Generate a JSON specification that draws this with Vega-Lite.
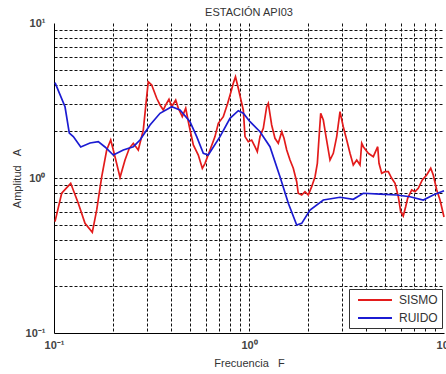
{
  "$schema": "https://vega.github.io/schema/vega-lite/v6.json",
  "width": 390,
  "height": 310,
  "autosize": "none",
  "padding": {"left": 54, "top": 23, "right": 2, "bottom": 41},
  "background": "white",
  "config": {"view": {"stroke": null}, "font": "Liberation Sans"},
  "title": {"text": "ESTACIÓN API03", "fontSize": 11, "fontWeight": "normal", "color": "#333", "offset": -1, "anchor": "middle"},
  "data": {"values": [
    {"f": 0.1012, "A": 0.523, "serie": "SISMO"},
    {"f": 0.1095, "A": 0.797, "serie": "SISMO"},
    {"f": 0.1218, "A": 0.924, "serie": "SISMO"},
    {"f": 0.1332, "A": 0.687, "serie": "SISMO"},
    {"f": 0.1442, "A": 0.510, "serie": "SISMO"},
    {"f": 0.1572, "A": 0.446, "serie": "SISMO"},
    {"f": 0.1656, "A": 0.622, "serie": "SISMO"},
    {"f": 0.1757, "A": 1.02, "serie": "SISMO"},
    {"f": 0.1863, "A": 1.516, "serie": "SISMO"},
    {"f": 0.1954, "A": 1.758, "serie": "SISMO"},
    {"f": 0.2055, "A": 1.372, "serie": "SISMO"},
    {"f": 0.2181, "A": 1.01, "serie": "SISMO"},
    {"f": 0.2313, "A": 1.306, "serie": "SISMO"},
    {"f": 0.2433, "A": 1.554, "serie": "SISMO"},
    {"f": 0.2551, "A": 1.675, "serie": "SISMO"},
    {"f": 0.2705, "A": 1.516, "serie": "SISMO"},
    {"f": 0.2870, "A": 2.04, "serie": "SISMO"},
    {"f": 0.2988, "A": 3.346, "serie": "SISMO"},
    {"f": 0.3044, "A": 4.18, "serie": "SISMO"},
    {"f": 0.3170, "A": 3.98, "serie": "SISMO"},
    {"f": 0.3363, "A": 3.268, "serie": "SISMO"},
    {"f": 0.3497, "A": 2.958, "serie": "SISMO"},
    {"f": 0.3636, "A": 2.746, "serie": "SISMO"},
    {"f": 0.3740, "A": 2.958, "serie": "SISMO"},
    {"f": 0.3888, "A": 3.219, "serie": "SISMO"},
    {"f": 0.4014, "A": 2.884, "serie": "SISMO"},
    {"f": 0.4209, "A": 3.185, "serie": "SISMO"},
    {"f": 0.4340, "A": 2.817, "serie": "SISMO"},
    {"f": 0.4549, "A": 2.486, "serie": "SISMO"},
    {"f": 0.4736, "A": 2.817, "serie": "SISMO"},
    {"f": 0.4924, "A": 2.198, "serie": "SISMO"},
    {"f": 0.5182, "A": 1.633, "serie": "SISMO"},
    {"f": 0.5495, "A": 1.407, "serie": "SISMO"},
    {"f": 0.5762, "A": 1.155, "serie": "SISMO"},
    {"f": 0.5950, "A": 1.244, "serie": "SISMO"},
    {"f": 0.631, "A": 1.516, "serie": "SISMO"},
    {"f": 0.6692, "A": 1.85, "serie": "SISMO"},
    {"f": 0.6961, "A": 2.254, "serie": "SISMO"},
    {"f": 0.7382, "A": 2.486, "serie": "SISMO"},
    {"f": 0.7776, "A": 3.033, "serie": "SISMO"},
    {"f": 0.8084, "A": 3.604, "serie": "SISMO"},
    {"f": 0.8307, "A": 4.083, "serie": "SISMO"},
    {"f": 0.8526, "A": 4.503, "serie": "SISMO"},
    {"f": 0.8812, "A": 3.79, "serie": "SISMO"},
    {"f": 0.9174, "A": 3.033, "serie": "SISMO"},
    {"f": 0.9349, "A": 2.746, "serie": "SISMO"},
    {"f": 0.9539, "A": 1.85, "serie": "SISMO"},
    {"f": 0.9918, "A": 1.715, "serie": "SISMO"},
    {"f": 1.032, "A": 1.758, "serie": "SISMO"},
    {"f": 1.073, "A": 1.592, "serie": "SISMO"},
    {"f": 1.103, "A": 1.478, "serie": "SISMO"},
    {"f": 1.139, "A": 1.85, "serie": "SISMO"},
    {"f": 1.184, "A": 2.092, "serie": "SISMO"},
    {"f": 1.232, "A": 2.884, "serie": "SISMO"},
    {"f": 1.256, "A": 3.033, "serie": "SISMO"},
    {"f": 1.307, "A": 2.198, "serie": "SISMO"},
    {"f": 1.359, "A": 1.804, "serie": "SISMO"},
    {"f": 1.413, "A": 1.675, "serie": "SISMO"},
    {"f": 1.472, "A": 1.99, "serie": "SISMO"},
    {"f": 1.512, "A": 1.804, "serie": "SISMO"},
    {"f": 1.561, "A": 1.516, "serie": "SISMO"},
    {"f": 1.623, "A": 1.306, "serie": "SISMO"},
    {"f": 1.687, "A": 1.155, "serie": "SISMO"},
    {"f": 1.756, "A": 0.946, "serie": "SISMO"},
    {"f": 1.789, "A": 0.797, "serie": "SISMO"},
    {"f": 1.863, "A": 0.777, "serie": "SISMO"},
    {"f": 1.937, "A": 0.816, "serie": "SISMO"},
    {"f": 2.014, "A": 0.777, "serie": "SISMO"},
    {"f": 2.096, "A": 0.879, "serie": "SISMO"},
    {"f": 2.181, "A": 1.02, "serie": "SISMO"},
    {"f": 2.241, "A": 1.244, "serie": "SISMO"},
    {"f": 2.294, "A": 1.943, "serie": "SISMO"},
    {"f": 2.332, "A": 2.615, "serie": "SISMO"},
    {"f": 2.405, "A": 2.367, "serie": "SISMO"},
    {"f": 2.483, "A": 1.85, "serie": "SISMO"},
    {"f": 2.603, "A": 1.306, "serie": "SISMO"},
    {"f": 2.706, "A": 1.443, "serie": "SISMO"},
    {"f": 2.817, "A": 1.85, "serie": "SISMO"},
    {"f": 2.929, "A": 2.677, "serie": "SISMO"},
    {"f": 3.044, "A": 2.143, "serie": "SISMO"},
    {"f": 3.170, "A": 1.758, "serie": "SISMO"},
    {"f": 3.296, "A": 1.443, "serie": "SISMO"},
    {"f": 3.426, "A": 1.213, "serie": "SISMO"},
    {"f": 3.568, "A": 1.306, "serie": "SISMO"},
    {"f": 3.709, "A": 1.213, "serie": "SISMO"},
    {"f": 3.784, "A": 1.675, "serie": "SISMO"},
    {"f": 3.857, "A": 1.592, "serie": "SISMO"},
    {"f": 4.091, "A": 1.443, "serie": "SISMO"},
    {"f": 4.340, "A": 1.372, "serie": "SISMO"},
    {"f": 4.571, "A": 1.592, "serie": "SISMO"},
    {"f": 4.642, "A": 1.244, "serie": "SISMO"},
    {"f": 4.791, "A": 1.072, "serie": "SISMO"},
    {"f": 4.981, "A": 1.098, "serie": "SISMO"},
    {"f": 5.18, "A": 1.098, "serie": "SISMO"},
    {"f": 5.393, "A": 0.996, "serie": "SISMO"},
    {"f": 5.61, "A": 0.924, "serie": "SISMO"},
    {"f": 5.83, "A": 0.757, "serie": "SISMO"},
    {"f": 5.997, "A": 0.606, "serie": "SISMO"},
    {"f": 6.18, "A": 0.569, "serie": "SISMO"},
    {"f": 6.36, "A": 0.653, "serie": "SISMO"},
    {"f": 6.51, "A": 0.740, "serie": "SISMO"},
    {"f": 6.83, "A": 0.837, "serie": "SISMO"},
    {"f": 7.10, "A": 0.816, "serie": "SISMO"},
    {"f": 7.38, "A": 0.858, "serie": "SISMO"},
    {"f": 7.74, "A": 0.971, "serie": "SISMO"},
    {"f": 8.15, "A": 1.046, "serie": "SISMO"},
    {"f": 8.55, "A": 1.155, "serie": "SISMO"},
    {"f": 8.81, "A": 1.046, "serie": "SISMO"},
    {"f": 9.18, "A": 0.837, "serie": "SISMO"},
    {"f": 9.54, "A": 0.721, "serie": "SISMO"},
    {"f": 10.0, "A": 0.56, "serie": "SISMO"},
    {"f": 0.1012, "A": 4.12, "serie": "RUIDO"},
    {"f": 0.1139, "A": 2.88, "serie": "RUIDO"},
    {"f": 0.1198, "A": 1.95, "serie": "RUIDO"},
    {"f": 0.1256, "A": 1.85, "serie": "RUIDO"},
    {"f": 0.1371, "A": 1.585, "serie": "RUIDO"},
    {"f": 0.1530, "A": 1.682, "serie": "RUIDO"},
    {"f": 0.1687, "A": 1.715, "serie": "RUIDO"},
    {"f": 0.1826, "A": 1.585, "serie": "RUIDO"},
    {"f": 0.2014, "A": 1.407, "serie": "RUIDO"},
    {"f": 0.2267, "A": 1.516, "serie": "RUIDO"},
    {"f": 0.2551, "A": 1.592, "serie": "RUIDO"},
    {"f": 0.2761, "A": 1.758, "serie": "RUIDO"},
    {"f": 0.3107, "A": 2.198, "serie": "RUIDO"},
    {"f": 0.3497, "A": 2.615, "serie": "RUIDO"},
    {"f": 0.4014, "A": 2.884, "serie": "RUIDO"},
    {"f": 0.4427, "A": 2.746, "serie": "RUIDO"},
    {"f": 0.4982, "A": 2.308, "serie": "RUIDO"},
    {"f": 0.5393, "A": 1.85, "serie": "RUIDO"},
    {"f": 0.5831, "A": 1.443, "serie": "RUIDO"},
    {"f": 0.6183, "A": 1.407, "serie": "RUIDO"},
    {"f": 0.7101, "A": 1.85, "serie": "RUIDO"},
    {"f": 0.7990, "A": 2.427, "serie": "RUIDO"},
    {"f": 0.8812, "A": 2.718, "serie": "RUIDO"},
    {"f": 0.9349, "A": 2.615, "serie": "RUIDO"},
    {"f": 1.012, "A": 2.308, "serie": "RUIDO"},
    {"f": 1.139, "A": 1.99, "serie": "RUIDO"},
    {"f": 1.281, "A": 1.592, "serie": "RUIDO"},
    {"f": 1.442, "A": 1.02, "serie": "RUIDO"},
    {"f": 1.591, "A": 0.687, "serie": "RUIDO"},
    {"f": 1.756, "A": 0.4975, "serie": "RUIDO"},
    {"f": 1.863, "A": 0.510, "serie": "RUIDO"},
    {"f": 2.055, "A": 0.622, "serie": "RUIDO"},
    {"f": 2.405, "A": 0.721, "serie": "RUIDO"},
    {"f": 2.929, "A": 0.751, "serie": "RUIDO"},
    {"f": 3.426, "A": 0.729, "serie": "RUIDO"},
    {"f": 3.857, "A": 0.797, "serie": "RUIDO"},
    {"f": 4.697, "A": 0.788, "serie": "RUIDO"},
    {"f": 5.72, "A": 0.777, "serie": "RUIDO"},
    {"f": 6.69, "A": 0.757, "serie": "RUIDO"},
    {"f": 7.83, "A": 0.721, "serie": "RUIDO"},
    {"f": 8.81, "A": 0.777, "serie": "RUIDO"},
    {"f": 10.0, "A": 0.828, "serie": "RUIDO"}
  ]},
  "mark": {"type": "line", "strokeWidth": 1.7},
  "encoding": {
    "x": {
      "field": "f", "type": "quantitative",
      "scale": {"type": "log", "domain": [0.1, 10]},
      "axis": {
        "title": "Frecuencia\u00a0\u00a0\u00a0F",
        "values": [0.1, 0.2, 0.3, 0.4, 0.5, 0.6, 0.7, 0.8, 0.9, 1, 2, 3, 4, 5, 6, 7, 8, 9, 10],
        "labelExpr": "datum.value < 0.15 ? '10⁻¹' : (datum.value > 0.95 && datum.value < 1.05) ? '10⁰' : datum.value > 9.5 ? '10¹' : ''",
        "grid": true, "gridColor": "#111", "gridDash": [3, 2], "gridWidth": 1,
        "gridOpacity": {"condition": {"test": "datum.value < 0.15 || datum.value > 9.5", "value": 0}, "value": 1},
        "domainColor": "#000", "domainWidth": 1, "ticks": false, "labelFlush": false,
        "labelFontSize": 11, "labelFontWeight": "bold", "labelColor": "#444", "labelPadding": 6, "labelOverlap": false,
        "titleFontSize": 11, "titleFontWeight": "normal", "titleColor": "#333", "titlePadding": 7
      }
    },
    "y": {
      "field": "A", "type": "quantitative",
      "scale": {"type": "log", "domain": [0.1, 10]},
      "axis": {
        "title": "Amplitud\u00a0\u00a0\u00a0A",
        "values": [0.1, 0.2, 0.3, 0.4, 0.5, 0.6, 0.7, 0.8, 0.9, 1, 2, 3, 4, 5, 6, 7, 8, 9, 10],
        "labelExpr": "datum.value < 0.15 ? '10⁻¹' : (datum.value > 0.95 && datum.value < 1.05) ? '10⁰' : datum.value > 9.5 ? '10¹' : ''",
        "grid": true, "gridColor": "#111", "gridDash": [3, 2], "gridWidth": 1,
        "gridOpacity": {"condition": {"test": "datum.value < 0.15 || datum.value > 9.5", "value": 0}, "value": 1},
        "domainColor": "#000", "domainWidth": 1, "ticks": false, "labelFlush": false,
        "labelFontSize": 11, "labelFontWeight": "bold", "labelColor": "#444", "labelPadding": 9, "labelOverlap": false,
        "titleFontSize": 11, "titleFontWeight": "normal", "titleColor": "#333", "titlePadding": 3
      }
    },
    "color": {
      "field": "serie", "type": "nominal",
      "scale": {"domain": ["SISMO", "RUIDO"], "range": ["#e31b1b", "#1b1bd2"]},
      "legend": {
        "title": null, "orient": "none", "legendX": 295, "legendY": 266,
        "fillColor": "white", "strokeColor": "#333", "padding": 4,
        "symbolType": "M-2.83,0H2.83", "symbolSize": 144, "symbolStrokeWidth": 2, "symbolOffset": 15,
        "labelExpr": "datum.label + '\u2004'",
        "labelFontSize": 12, "labelColor": "#333", "rowPadding": 5, "labelOffset": 17
      }
    }
  }
}
